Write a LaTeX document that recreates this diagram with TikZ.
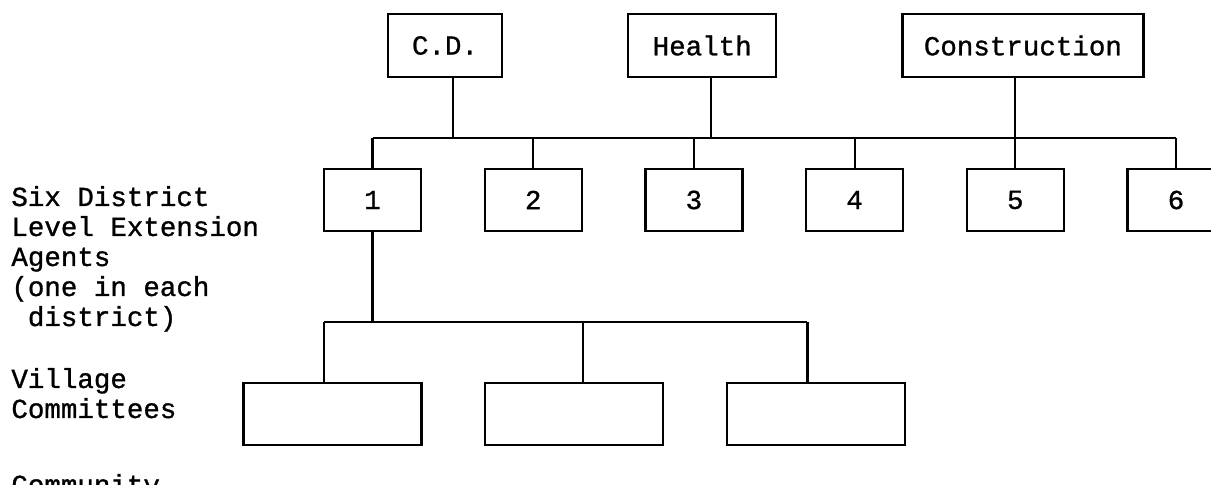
\documentclass[tikz,border=0pt]{standalone}
\usepackage{fontspec}
\setmonofont[FakeBold=1]{Liberation Mono}
\usetikzlibrary{positioning}
\tikzset{
  office/.style={rectangle, draw=black, line width=1.1pt, minimum height=31.5pt, inner sep=0pt, font=\ttfamily\fontsize{13.75}{15}\selectfont},
  agent/.style={rectangle, draw=black, line width=1.1pt, minimum width=48.5pt, minimum height=31pt, inner sep=0pt, font=\ttfamily\fontsize{13.75}{15}\selectfont},
  village/.style={rectangle, draw=black, line width=1.1pt, minimum width=89pt, minimum height=31pt, inner sep=0pt},
  lbl/.style={anchor=base west, inner sep=0pt, align=left, font=\ttfamily\fontsize{13.75}{15}\selectfont},
  link/.style={draw=black, line width=1.1pt},
}
\begin{document}
\begin{tikzpicture}[x=0.5pt, y=-0.5pt, node distance=30.75pt]
\useasboundingbox (0,0) rectangle (1211,485);
% sector offices
\node[office, minimum width=57pt] (cd) at (445,45.5) {C.D.};
\node[office, minimum width=74pt, right=62pt of cd] (health) {Health};
\node[office, minimum width=120.5pt, right=62pt of health] (constr) {Construction};
% district agents
\node[agent] (d1) at (372.5,200) {1};
\node[agent, right=of d1] (d2) {2};
\node[agent, right=of d2] (d3) {3};
\node[agent, right=of d3] (d4) {4};
\node[agent, right=of d4] (d5) {5};
\node[agent, right=of d5] (d6) {6};
% village committees
\node[village] (v1) at (332.5,414) {};
\node[village, right=of v1] (v2) {};
\node[village, right=of v2] (v3) {};
% row labels
\node[lbl] (lagents) at (11,326) {Six District\\Level Extension\\Agents\\(one in each\\\ district)};
\node[lbl] (lvillage) at (11,418) {Village\\Committees};
\node[lbl] (lcomm) at (11,494) {Community};
% connectors
\coordinate (bus) at (0,138);
\coordinate (vbus) at (0,322);
\draw[link] ([xshift=4pt]cd.south) -- ([xshift=4pt]cd.south |- bus);
\draw[link] ([xshift=4.5pt]health.south) -- ([xshift=4.5pt]health.south |- bus);
\draw[link] (constr.south -| d5.north) -- (d5.north);
\draw[link] (d1.north |- bus) -- (d6.north |- bus);
\draw[link] (d1.north |- bus) -- (d1.north);
\draw[link] (d2.north |- bus) -- (d2.north);
\draw[link] (d3.north |- bus) -- (d3.north);
\draw[link] (d4.north |- bus) -- (d4.north);
\draw[link] (d6.north |- bus) -- (d6.north);
\draw[link] (d1.south) -- (d1.south |- vbus);
\draw[link] ([xshift=-4.25pt]v1.north |- vbus) -- ([xshift=-4.25pt]v3.north |- vbus);
\draw[link] ([xshift=-4.25pt]v1.north |- vbus) -- ([xshift=-4.25pt]v1.north);
\draw[link] ([xshift=4.5pt]v2.north |- vbus) -- ([xshift=4.5pt]v2.north);
\draw[link] ([xshift=-4.25pt]v3.north |- vbus) -- ([xshift=-4.25pt]v3.north);
\end{tikzpicture}
\end{document}
